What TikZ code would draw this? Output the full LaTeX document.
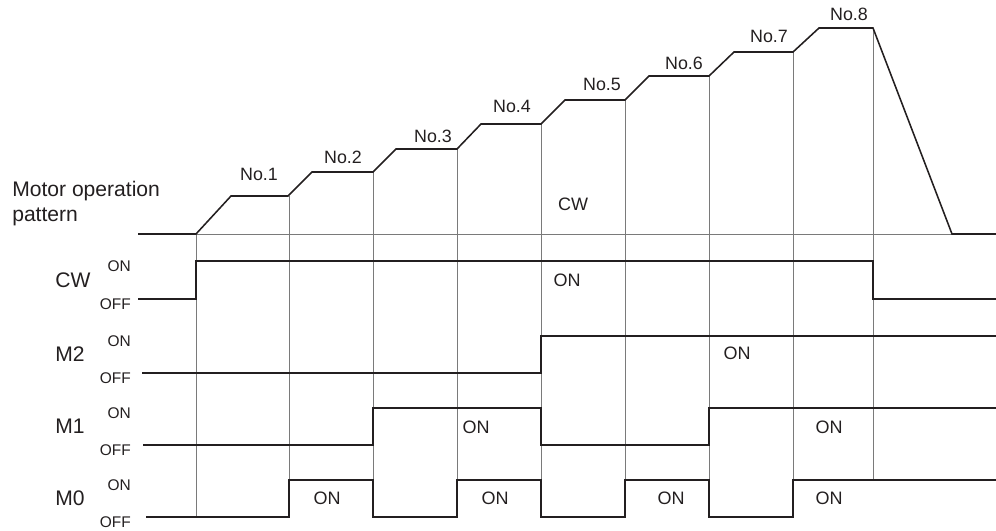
\documentclass[tikz,border=0pt]{standalone}
\usepackage{fontspec}
\setmainfont{Liberation Sans}
\usepackage{xcolor}
\usepackage{tikz}
\usetikzlibrary{positioning,calc}
\definecolor{dark}{HTML}{231F20}
\definecolor{gridgray}{HTML}{7A7A7A}
\newcommand{\sigrow}[4]{%
    % #1=name, #2=ON level, #3=OFF level, #4=label
    \node[signame] (#1) at (55,{(#2+#3)/2}) {#4};
    \node[levelname] (#1-on) at (131,#2+5) {ON};
    \node[levelname] (#1-off) at (131,#3+5) {OFF};
}

\begin{document}
\begin{tikzpicture}[x=0.25mm, y=-0.25mm,
    signal/.style={draw=dark, line width=1.1pt},
    gridline/.style={draw=gridgray, line width=0.5pt},
    signame/.style={anchor=west, inner sep=0pt, text=dark, font=\fontsize{15}{18}\selectfont},
    levelname/.style={anchor=east, inner sep=0pt, text=dark, font=\fontsize{11}{13}\selectfont},
    onlabel/.style={inner sep=0pt, text=dark, font=\fontsize{12.8}{15}\selectfont},
    speedlabel/.style={inner sep=0pt, text=dark, font=\fontsize{12.7}{15}\selectfont}
]
    \useasboundingbox (0,0) rectangle (996,531);

    % grid
    \draw[gridline] (196,234) -- (952,234);
    \draw[gridline] (196,234) -- (196,517);
    \foreach \x/\t in {289/196, 373/172, 457/149, 541/124, 625/100, 709/76, 793/52}
        \draw[gridline] (\x,\t) -- (\x,517);
    \draw[gridline] (873,28) -- (873,480);

    % motor operation pattern
    \node[anchor=base west, inner sep=0pt, text=dark, font=\fontsize{15}{18}\selectfont] (motor) at (12,196) {Motor operation};
    \node[anchor=base west, inner sep=0pt, text=dark, font=\fontsize{15}{18}\selectfont] (pattern) at (12,221) {pattern};
    \draw[signal] (138,234) -- (196,234) -- (231,196) -- (288,196) -- (312,172) -- (373,172)
        -- (396,149) -- (457,149) -- (481,124) -- (541,124) -- (565,100) -- (625,100)
        -- (649,76) -- (709,76) -- (734,52) -- (793,52) -- (819,28) -- (873,28)
        -- (952,234) -- (996,234);
    \foreach \i/\x/\y in {1/259/174, 2/343/157, 3/433/136, 4/512/106, 5/602/84, 6/684/63, 7/769/36, 8/849/14}
        \node[speedlabel] (no\i) at (\x,\y) {No.\i};
    \node[onlabel] (dir) at (573,204) {CW};

    % signals
    \sigrow{cw}{261}{299}{CW}
    \sigrow{m2}{336}{373}{M2}
    \sigrow{m1}{408}{445}{M1}
    \sigrow{m0}{480}{517}{M0}

    \draw[signal] (138,299) -| (196,261) -| (873,299) -- (996,299);
    \draw[signal] (142,373) -| (541,336) -- (996,336);
    \draw[signal] (143,445) -| (373,408) -| (541,445) -| (709,408) -- (996,408);
    \draw[signal] (146,517) -| (289,480) -| (373,517) -| (457,480) -| (541,517)
        -| (625,480) -| (709,517) -| (793,480) -- (996,480);

    \node[onlabel] (cw-on1) at (567,280) {ON};
    \node[onlabel] (m2-on1) at (737,353) {ON};
    \node[onlabel] (m1-on1) at (476,427) {ON};
    \node[onlabel] (m1-on2) at (829,427) {ON};
    \node[onlabel] (m0-on1) at (327,498) {ON};
    \node[onlabel] (m0-on2) at (495,498) {ON};
    \node[onlabel] (m0-on3) at (671,498) {ON};
    \node[onlabel] (m0-on4) at (829,498) {ON};
\end{tikzpicture}
\end{document}
